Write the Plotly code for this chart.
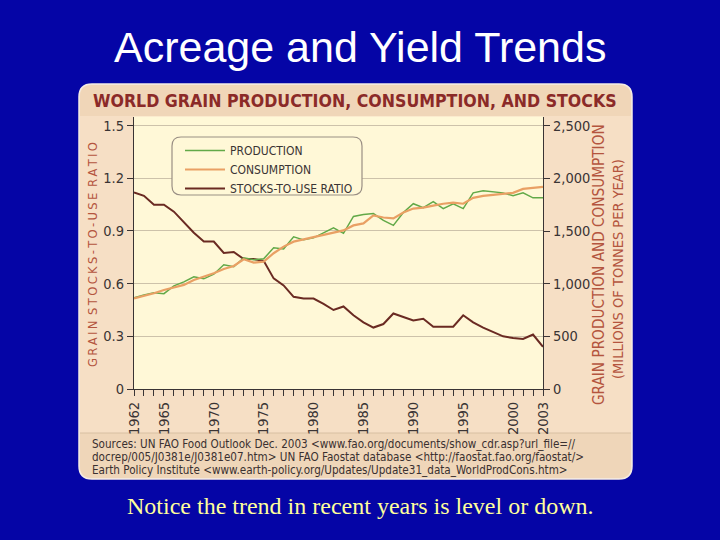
import plotly.graph_objects as go

# data
years = list(range(1962, 2004))
production = [865, 893, 913, 905, 979, 1017, 1065, 1046, 1090, 1179, 1160,
              1245, 1226, 1236, 1340, 1330, 1445, 1416, 1435, 1483, 1530,
              1478, 1638, 1656, 1665, 1600, 1553, 1675, 1759, 1722, 1778,
              1713, 1759, 1713, 1862, 1881, 1872, 1862, 1834, 1862, 1815, 1815]
consumption = [861, 883, 909, 940, 966, 988, 1035, 1066, 1099, 1140, 1168,
               1232, 1200, 1209, 1289, 1352, 1399, 1421, 1441, 1462, 1484,
               1506, 1553, 1572, 1647, 1628, 1619, 1675, 1713, 1722, 1741,
               1759, 1769, 1759, 1815, 1834, 1843, 1853, 1862, 1900, 1909, 1919]
stocks_ratio = [1.12, 1.10, 1.05, 1.05, 1.01, 0.95, 0.89, 0.84, 0.84, 0.775,
                0.78, 0.74, 0.74, 0.73, 0.63, 0.59, 0.525, 0.515, 0.515, 0.485,
                0.45, 0.47, 0.42, 0.38, 0.35, 0.37, 0.43, 0.41, 0.39, 0.40,
                0.355, 0.355, 0.355, 0.42, 0.38, 0.35, 0.325, 0.30, 0.29,
                0.285, 0.31, 0.24]

year_ticks = [1962, 1965, 1970, 1975, 1980, 1985, 1990, 1995, 2000, 2003]
ratio_ticks = [0, 0.3, 0.6, 0.9, 1.2, 1.5]
ratio_labels = ['0', '0.3', '0.6', '0.9', '1.2', '1.5']
tonne_ticks = [0, 500, 1000, 1500, 2000, 2500]
tonne_labels = ['0', '500', '1,000', '1,500', '2,000', '2,500']

source_lines = [
    'Sources: UN FAO Food Outlook Dec. 2003 '
    '&lt;www.fao.org/documents/show_cdr.asp?url_file=//',
    'docrep/005/J0381e/J0381e07.htm&gt; UN FAO Faostat database '
    '&lt;http://faostat.fao.org/faostat/&gt;',
    'Earth Policy Institute '
    '&lt;www.earth-policy.org/Updates/Update31_data_WorldProdCons.htm&gt;',
]

W, H = 720, 540
NARROW = 'DejaVu Sans Condensed, DejaVu Sans, sans-serif'


def px(x):
    return x / W


def py(y):
    return 1 - y / H


def rounded(x0, y0, x1, y1, r, top=True, bottom=True):
    rt = r if top else 0
    rb = r if bottom else 0
    pts = [
        f'M {px(x0 + rt)} {py(y0)}',
        f'L {px(x1 - rt)} {py(y0)}',
        f'Q {px(x1)} {py(y0)} {px(x1)} {py(y0 + rt)}',
        f'L {px(x1)} {py(y1 - rb)}',
        f'Q {px(x1)} {py(y1)} {px(x1 - rb)} {py(y1)}',
        f'L {px(x0 + rb)} {py(y1)}',
        f'Q {px(x0)} {py(y1)} {px(x0)} {py(y1 - rb)}',
        f'L {px(x0)} {py(y0 + rt)}',
        f'Q {px(x0)} {py(y0)} {px(x0 + rt)} {py(y0)}',
        'Z',
    ]
    return ' '.join(pts)


def spaced(s):
    # letter-spaced look of the left axis title
    return '\u2002'.join('\u2009'.join(word) for word in s.split(' '))


fig = go.Figure()

fig.add_trace(go.Scatter(
    x=years, y=production, name='PRODUCTION', yaxis='y2',
    mode='lines', line=dict(color='#62a948', width=1.5)
))
fig.add_trace(go.Scatter(
    x=years, y=consumption, name='CONSUMPTION', yaxis='y2',
    mode='lines', line=dict(color='#e9a064', width=2.2)
))
fig.add_trace(go.Scatter(
    x=years, y=stocks_ratio, name='STOCKS-TO-USE RATIO',
    mode='lines', line=dict(color='#6a2a22', width=2)
))

shapes = [
    # tan panel
    dict(type='path', xref='paper', yref='paper', layer='below',
         path=rounded(79, 84, 632, 479, 13),
         fillcolor='#f6dfc5', line=dict(color='#f4ece4', width=1.5)),
    # header band
    dict(type='path', xref='paper', yref='paper', layer='below',
         path=rounded(80, 85, 631, 116, 12, bottom=False),
         fillcolor='#f0d6b8', line=dict(width=0)),
    # footer band
    dict(type='path', xref='paper', yref='paper', layer='below',
         path=rounded(80, 433, 631, 478, 12, top=False),
         fillcolor='#efd6b9', line=dict(width=0)),
    dict(type='line', xref='paper', yref='paper', layer='below',
         x0=px(80), x1=px(631), y0=py(433), y1=py(433),
         line=dict(color='#d8bfa2', width=1)),
    # cream plot area
    dict(type='rect', xref='paper', yref='paper', layer='below',
         x0=px(134), x1=px(543), y0=py(389), y1=py(116.5),
         fillcolor='#fff8d7', line=dict(width=0)),
    # legend box
    dict(type='path', xref='paper', yref='paper', layer='above',
         path=rounded(172, 137, 362, 195, 9),
         fillcolor='#fff8d7', line=dict(color='#9a8f84', width=1.2)),
]

annotations = [
    dict(text='Acreage and Yield Trends', x=0.5, y=py(47), xref='paper',
         yref='paper', showarrow=False, xanchor='center', yanchor='middle',
         font=dict(family='Liberation Sans, Arial, sans-serif', size=43,
                   color='white')),
    dict(text='<b>WORLD GRAIN PRODUCTION, CONSUMPTION, AND STOCKS</b>',
         x=px(355), y=py(101), xref='paper', yref='paper', showarrow=False,
         xanchor='center', yanchor='middle',
         font=dict(family=NARROW, size=17.6, color='#8b2a28')),
    dict(text=spaced('GRAIN STOCKS-TO-USE RATIO'), x=px(93), y=py(255),
         xref='paper', yref='paper', showarrow=False, textangle=-90,
         xanchor='center', yanchor='middle',
         font=dict(family='DejaVu Sans, sans-serif', size=11.6,
                   color='#b4553e')),
    dict(text='GRAIN PRODUCTION AND CONSUMPTION', x=px(599), y=py(265),
         xref='paper', yref='paper', showarrow=False, textangle=-90,
         xanchor='center', yanchor='middle',
         font=dict(family=NARROW, size=15.2, color='#b4553e')),
    dict(text='(MILLIONS OF TONNES PER YEAR)', x=px(618), y=py(269),
         xref='paper', yref='paper', showarrow=False, textangle=-90,
         xanchor='center', yanchor='middle',
         font=dict(family=NARROW, size=14.5, color='#b4553e')),
    dict(text='Notice the trend in recent years is level or down.',
         x=0.5, y=py(506), xref='paper', yref='paper', showarrow=False,
         xanchor='center', yanchor='middle',
         font=dict(family='Liberation Serif, Times New Roman, serif',
                   size=24, color='#ffff9c')),
]

for i, line in enumerate(source_lines):
    annotations.append(dict(
        text=line, x=px(90), y=py(444 + 13 * i), xref='paper', yref='paper',
        showarrow=False, xanchor='left', yanchor='middle',
        font=dict(family=NARROW, size=11.6, color='#3a3030')))

axis_font = dict(family=NARROW, size=14.5, color='#3a3434')

fig.update_layout(
    width=W, height=H,
    margin=dict(l=0, r=0, t=0, b=0, pad=0),
    paper_bgcolor='#0505a6',
    plot_bgcolor='rgba(0,0,0,0)',
    showlegend=True,
    legend=dict(x=px(180), y=py(136), xanchor='left', yanchor='top',
                bgcolor='rgba(0,0,0,0)', borderwidth=0,
                font=dict(family=NARROW, size=12, color='#3a3434'),
                tracegroupgap=0, itemwidth=40),
    xaxis=dict(
        domain=[px(134), px(543)], range=[1962, 2003], automargin=False,
        tickmode='array', tickvals=year_ticks, tickangle=-90,
        ticks='outside', ticklen=6, tickcolor='#3a3434',
        minor=dict(dtick=1, ticks='outside', ticklen=6,
                   tickcolor='#3a3434', showgrid=False),
        showgrid=False, zeroline=False,
        showline=True, linecolor='#3a3434', linewidth=1.2,
        tickfont=axis_font,
    ),
    yaxis=dict(
        domain=[py(389), py(116.5)], range=[0, 1.552], automargin=False,
        tickmode='array', tickvals=ratio_ticks, ticktext=ratio_labels,
        ticks='outside', ticklen=6, tickcolor='#3a3434',
        showgrid=True, gridcolor='#cdc2aa', gridwidth=1.2, zeroline=False,
        showline=True, linecolor='#3a3434', linewidth=1.2,
        tickfont=axis_font,
    ),
    yaxis2=dict(
        overlaying='y', side='right', range=[0, 2587], automargin=False,
        tickmode='array', tickvals=tonne_ticks, ticktext=tonne_labels,
        ticks='outside', ticklen=6, tickcolor='#3a3434',
        showgrid=False, zeroline=False,
        showline=True, linecolor='#3a3434', linewidth=1.2,
        tickfont=axis_font,
    ),
    shapes=shapes,
    annotations=annotations,
)

fig.write_html('out.html', config={'displayModeBar': False},
               post_script="document.body.style.margin='0';")
